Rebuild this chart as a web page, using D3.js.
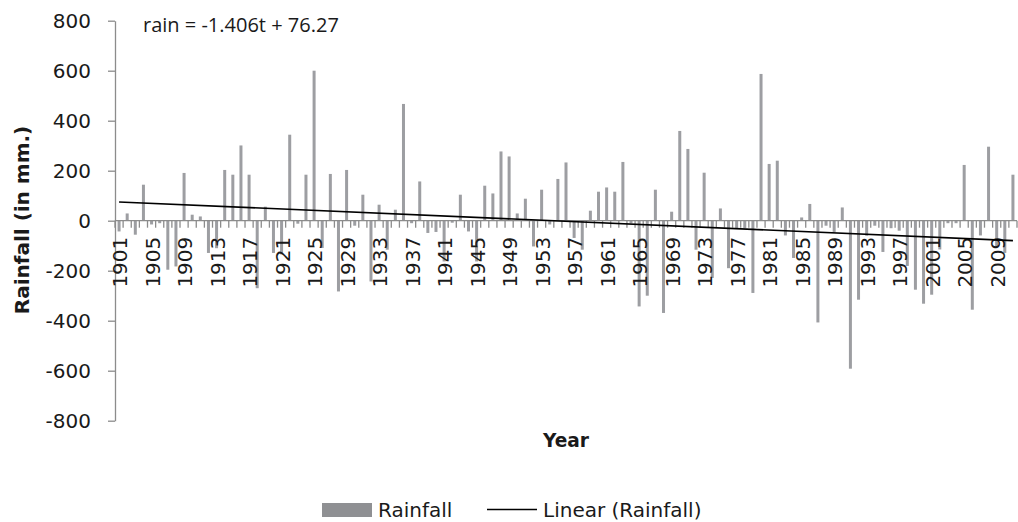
<!DOCTYPE html>
<html>
<head>
<meta charset="utf-8">
<style>
body { margin: 0; background: #fff; }
text { font-family: "DejaVu Sans"; fill: #1a1a1a; }
</style>
</head>
<body>
<svg id="chart" width="1018" height="522"></svg>
<script src="https://d3js.org/d3.v7.min.js"></script>
<script>
    // year-by-year rainfall departure (mm)
    const years = d3.range(1901, 2012);
    const rainfall = [
        -43, 29, -56, 144, -15, -10, -196, -183, 191, 24,
        17, -129, -110, 203, 184, 301, 184, -270, 56, -129,
        -135, 344, -12, 184, 600, -109, 187, -283, 203, -20,
        104, -243, 64, -116, 44, 467, -10, 157, -49, -45,
        -163, -8, 104, -43, -163, 140, 109, 277, 257, 29,
        88, -103, 124, -15, 167, 233, -69, -116, 40, 116,
        133, 116, 235, -10, -343, -300, 124, -369, 36, 359,
        287, -116, 192, -229, 49, -190, -30, -30, -289, 587,
        227, 240, -59, -149, 13, 67, -407, -20, -45, 53,
        -592, -316, -60, -20, -125, -30, -40, -181, -276, -332,
        -296, -115, -10, -10, 223, -356, -59, 296, -103, -129,
        184
    ];
    const yTicks = [-800, -600, -400, -200, 0, 200, 400, 600, 800];
    const xLabels = years.filter((d, i) => i % 4 == 0);
    // trendline printed on the chart: rain = -1.406t + 76.27
    const slope = -1.406, intercept = 76.27;

    const svg = d3.select("#chart");
    const plot_left = 115, plot_right = 1017, plot_top = 20.7, plot_bottom = 420.7;
    const axis_color = "#8c8c8c";
    const bar_color = "#9d9ea2";

    const x = d3.scaleBand().domain(years).range([plot_left, plot_right]);
    const y = d3.scaleLinear().domain([-800, 800]).range([plot_bottom, plot_top]);
    const bw = 3;

    // bars
    svg.selectAll("rect.bar")
        .data(years)
        .enter()
        .append("rect")
        .attr("class", "bar")
        .attr("x", d => x(d) + x.bandwidth() / 2 - bw / 2)
        .attr("width", bw)
        .attr("y", (d, i) => y(Math.max(0, rainfall[i])))
        .attr("height", (d, i) => Math.abs(y(rainfall[i]) - y(0)))
        .style("fill", bar_color);

    // y axis
    const yAxis = svg.append("g")
        .attr("transform", `translate(${plot_left},0)`)
        .call(d3.axisLeft(y).tickValues(yTicks).tickSize(7).tickSizeOuter(0).tickPadding(17)
            .tickFormat(d => String(d)));
    yAxis.select(".domain").attr("stroke", axis_color).attr("stroke-width", 1.3);
    yAxis.selectAll(".tick line").attr("stroke", axis_color).attr("stroke-width", 1.3);
    yAxis.selectAll(".tick text")
        .style("font-family", "DejaVu Sans")
        .style("font-size", "20px")
        .style("fill", "#1a1a1a");

    // category axis at zero
    svg.append("line")
        .attr("x1", plot_left).attr("x2", plot_right)
        .attr("y1", y(0)).attr("y2", y(0))
        .style("stroke", axis_color)
        .style("stroke-width", 1.3);

    svg.selectAll("line.xtick")
        .data(years.concat([years[years.length - 1] + 1]))
        .enter()
        .append("line")
        .attr("class", "xtick")
        .attr("x1", (d, i) => plot_left + i * x.bandwidth())
        .attr("x2", (d, i) => plot_left + i * x.bandwidth())
        .attr("y1", y(0))
        .attr("y2", y(0) + 7)
        .style("stroke", axis_color)
        .style("stroke-width", 1.3);

    svg.selectAll("text.xlabel")
        .data(xLabels)
        .enter()
        .append("text")
        .attr("class", "xlabel")
        .attr("transform", d => `translate(${x(d) + x.bandwidth() / 2 + 8},${y(0) + 16}) rotate(-90)`)
        .attr("text-anchor", "end")
        .style("font-size", "20px")
        .text(d => d);

    // linear trendline
    const t0 = 1, t1 = years.length;
    svg.append("line")
        .attr("x1", x(years[0]) + x.bandwidth() / 2)
        .attr("y1", y(slope * t0 + intercept))
        .attr("x2", x(years[years.length - 1]) + x.bandwidth() / 2)
        .attr("y2", y(slope * t1 + intercept))
        .style("stroke", "#000")
        .style("stroke-width", 1.6);

    svg.append("text")
        .attr("x", 143).attr("y", 32)
        .style("font-family", "Open Sans")
        .style("font-size", "20px")
        .text("rain = -1.406t + 76.27");

    // axis titles
    svg.append("text")
        .attr("transform", "translate(29,220) rotate(-90)")
        .attr("text-anchor", "middle")
        .style("font-size", "20px")
        .style("font-weight", "bold")
        .text("Rainfall (in mm.)");

    svg.append("text")
        .attr("x", 566).attr("y", 447)
        .attr("text-anchor", "middle")
        .style("font-size", "18.6px")
        .style("font-weight", "bold")
        .text("Year");

    // legend
    const legend = svg.append("g");
    legend.append("rect")
        .attr("x", 322).attr("y", 503).attr("width", 50).attr("height", 14)
        .style("fill", "#8f9093");
    legend.append("text")
        .attr("x", 378).attr("y", 517)
        .style("font-size", "20px")
        .text("Rainfall");
    legend.append("line")
        .attr("x1", 487).attr("x2", 537).attr("y1", 509.5).attr("y2", 509.5)
        .style("stroke", "#000").style("stroke-width", 1.3);
    legend.append("text")
        .attr("x", 543).attr("y", 517)
        .style("font-size", "20px")
        .text("Linear (Rainfall)");
</script>
</body>
</html>
